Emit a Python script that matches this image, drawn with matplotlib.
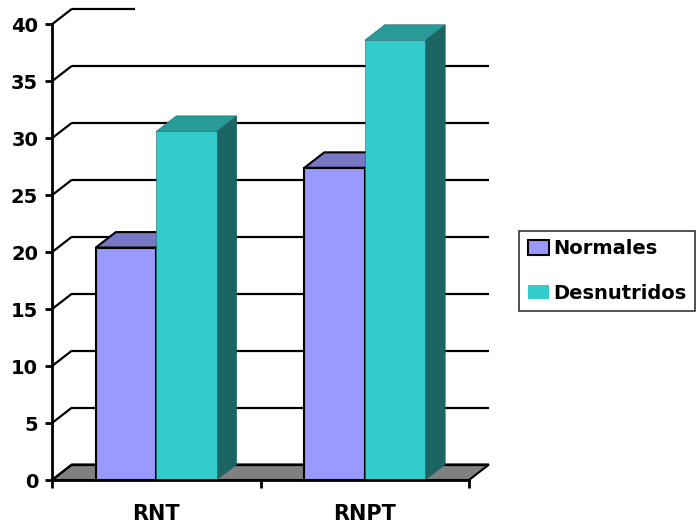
import numpy as np
import matplotlib.pyplot as plt
from matplotlib.patches import Polygon, Patch

plt.rcParams['font.family'] = ['DejaVu Sans']

categories = ['RNT', 'RNPT']
series_names = ['Normales', 'Desnutridos']
normales = [20.4, 27.4]
desnutridos = [30.6, 38.6]
yticks = [0, 5, 10, 15, 20, 25, 30, 35, 40]

# colours: front, top, side
C_NORM = ('#9999FF', '#7777C4', '#55558F')
C_DESN = ('#33CCCC', '#289B98', '#1D6565')

W, H = 697, 529
fig = plt.figure(figsize=(W / 100, H / 100), dpi=100)
# front plane of the 3-D box
x0, x1, y0, ytop = 52, 469, 480, 24.3
ax = fig.add_axes([x0 / W, (H - y0) / H, (x1 - x0) / W, (y0 - ytop) / H])
ax.set_xlim(0, 2)
ax.set_ylim(0, 40)

pxx = (x1 - x0) / 2.0          # px per category unit
pxy = (y0 - ytop) / 40.0       # px per value unit
DX = 20 / pxx                  # depth offset in data units
DY = 15.5 / pxy

# floor
ax.add_patch(Polygon([(0, 0), (2, 0), (2 + DX, DY), (DX, DY)], closed=True,
                     fc='#808080', ec='black', lw=1.5, zorder=1, clip_on=False))

# back wall gridlines + diagonals
for v in yticks:
    ax.plot([0, DX], [v, v + DY], color='black', lw=1.6, zorder=2,
            clip_on=False, solid_capstyle='butt')
    xe = 2 + DX if v < 40 else (135 - x0) / pxx
    ax.plot([DX, xe], [v + DY, v + DY], color='black', lw=1.6, zorder=2,
            clip_on=False, solid_capstyle='butt')


def bar3d(xl, w, h, cols, ec, lw, z):
    front = [(xl, 0), (xl + w, 0), (xl + w, h), (xl, h)]
    top = [(xl, h), (xl + w, h), (xl + w + DX, h + DY), (xl + DX, h + DY)]
    side = [(xl + w, 0), (xl + w + DX, DY), (xl + w + DX, h + DY), (xl + w, h)]
    for pts, c in ((side, cols[2]), (top, cols[1]), (front, cols[0])):
        ax.add_patch(Polygon(pts, closed=True, fc=c, ec=ec, lw=lw,
                             zorder=z, clip_on=False, joinstyle='miter'))


bw = 0.29
for i, cat in enumerate(categories):
    c = i + 0.5
    bar3d(c - bw, bw, normales[i], C_NORM, 'black', 1.5, 3 + i)
    bar3d(c, bw, desnutridos[i], C_DESN, '#1D6565', 0.4, 3.5 + i)

# axes styling
for s in ('top', 'right'):
    ax.spines[s].set_visible(False)
for s in ('left', 'bottom'):
    ax.spines[s].set_linewidth(2)
    ax.spines[s].set_zorder(6)
ax.set_yticks(yticks)
ax.set_yticklabels([str(v) for v in yticks], fontsize=14, fontweight='bold')
ax.tick_params(axis='y', direction='out', length=5, width=2, pad=5)
ax.set_xticks([0, 1, 2])
ax.set_xticklabels(['', '', ''])
ax.tick_params(axis='x', which='major', direction='out', length=6, width=2)
ax.set_xticks([0.5, 1.5], minor=True)
ax.set_xticklabels(categories, minor=True, fontsize=15, fontweight='bold')
ax.tick_params(axis='x', which='minor', length=0, pad=17)
ax.patch.set_visible(False)

handles = [Patch(fc=C_NORM[0], ec='black', lw=1.5, label=series_names[0]),
           Patch(fc=C_DESN[0], ec='none', label=series_names[1])]
leg = fig.legend(handles=handles, loc='center left',
                 bbox_to_anchor=(519 / W, 1 - 271 / H),
                 prop={'size': 14, 'weight': 'bold'}, frameon=True,
                 fancybox=False, handlelength=1.1, handleheight=0.76,
                 handletextpad=0.2, labelspacing=1.3, borderpad=0.45,
                 borderaxespad=0)
leg.get_frame().set_edgecolor('black')
leg.get_frame().set_linewidth(1.2)

fig.savefig('out.png', dpi=100)
